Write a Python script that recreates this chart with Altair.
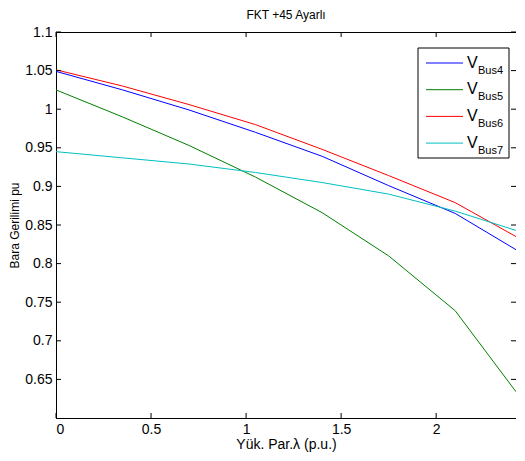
import altair as alt
import pandas as pd

# ---- data ----
lam = [0, 0.35, 0.7, 1.05, 1.4, 1.75, 2.1, 2.42]
bus4 = [1.049, 1.025, 0.999, 0.970, 0.939, 0.901, 0.865, 0.818]
bus5 = [1.025, 0.990, 0.953, 0.912, 0.866, 0.810, 0.739, 0.634]
bus6 = [1.051, 1.030, 1.006, 0.980, 0.948, 0.914, 0.879, 0.835]
bus7 = [0.945, 0.937, 0.929, 0.918, 0.905, 0.890, 0.868, 0.843]
series = ["Bus4", "Bus5", "Bus6", "Bus7"]
colors = ["#0000ff", "#008000", "#ff0000", "#00bfbf"]
x_ticks = [0, 0.5, 1, 1.5, 2]
y_ticks = [0.65, 0.7, 0.75, 0.8, 0.85, 0.9, 0.95, 1.0, 1.05, 1.1]

W, H = 460, 386
FONT = "Liberation Sans"

rows = []
for name, vals in zip(series, [bus4, bus5, bus6, bus7]):
    for i, (l, v) in enumerate(zip(lam, vals)):
        rows.append({"lam": l, "v": v, "bus": name, "i": i})
df = pd.DataFrame(rows)

xs = alt.Scale(domain=[0, 2.42], nice=False, zero=False)
ys = alt.Scale(domain=[0.6, 1.1], nice=False, zero=False)
cs = alt.Scale(domain=series, range=colors)

base = alt.Chart(df)
lines = base.mark_line(strokeWidth=1, clip=True).encode(
    x=alt.X("lam:Q", scale=xs,
            axis=alt.Axis(values=x_ticks, format="~g", title="Yük. Par.λ (p.u.)",
                          ticks=False, grid=False, labelPadding=4, titlePadding=1)),
    y=alt.Y("v:Q", scale=ys,
            axis=alt.Axis(values=y_ticks, format="~g", title="Bara Gerilimi pu",
                          ticks=False, grid=False, labelPadding=4, titlePadding=3)),
    color=alt.Color("bus:N", scale=cs, legend=None),
    order="i:Q",
)

# inward ticks (MATLAB style) on all four sides
xt = pd.DataFrame({"t": x_ticks})
yt = pd.DataFrame({"t": y_ticks})
tk = dict(color="black", strokeWidth=1)
tb = alt.Chart(xt).mark_rule(**tk).encode(x=alt.X("t:Q", scale=xs), y=alt.value(H), y2=alt.value(H - 5))
tt = alt.Chart(xt).mark_rule(**tk).encode(x=alt.X("t:Q", scale=xs), y=alt.value(0), y2=alt.value(5))
tl = alt.Chart(yt).mark_rule(**tk).encode(y=alt.Y("t:Q", scale=ys), x=alt.value(0), x2=alt.value(5))
tr = alt.Chart(yt).mark_rule(**tk).encode(y=alt.Y("t:Q", scale=ys), x=alt.value(W), x2=alt.value(W - 5))

# custom legend with subscripts
leg = pd.DataFrame({"bus": series, "k": list(range(len(series)))})
leg["ly"] = 31 + leg["k"] * 26.7
leg["vy"] = leg["ly"] + 4.5
leg["sy"] = leg["ly"] + 10.5
box = alt.Chart(pd.DataFrame({"a": [0]})).mark_rect(fill="white", stroke="black", strokeWidth=1).encode(
    x=alt.value(362), x2=alt.value(453), y=alt.value(16), y2=alt.value(126))
lc = alt.Chart(leg)
lsym = lc.mark_rule(strokeWidth=1).encode(
    x=alt.value(370), x2=alt.value(407), y=alt.Y("ly:Q", scale=None),
    color=alt.Color("bus:N", scale=cs, legend=None))
lv = lc.mark_text(text="V", font=FONT, fontSize=16, align="left", baseline="alphabetic", color="black").encode(
    x=alt.value(411), y=alt.Y("vy:Q", scale=None))
ls = lc.mark_text(font=FONT, fontSize=11, align="left", baseline="alphabetic", color="black").encode(
    x=alt.value(422), y=alt.Y("sy:Q", scale=None), text="bus:N")

chart = alt.layer(lines, tb, tt, tl, tr, box, lsym, lv, ls).properties(
    width=W, height=H,
    title=alt.TitleParams("FKT +45 Ayarlı", font=FONT, fontSize=12, fontWeight="normal",
                          color="black", anchor="middle", frame="group", offset=3),
    padding={"left": 48, "top": 24, "right": 0, "bottom": 35},
    autosize=alt.AutoSizeParams(type="none"),
).configure_view(stroke="black", strokeWidth=1).configure_axis(
    labelFont=FONT, titleFont=FONT, labelFontSize=14, labelColor="black",
    titleFontSize=12, titleFontWeight="normal", titleColor="black",
    domainColor="black", domainWidth=1,
).configure_axisX(titleFontSize=14)

chart.save("out.html", embed_options={"renderer": "svg", "actions": False})
